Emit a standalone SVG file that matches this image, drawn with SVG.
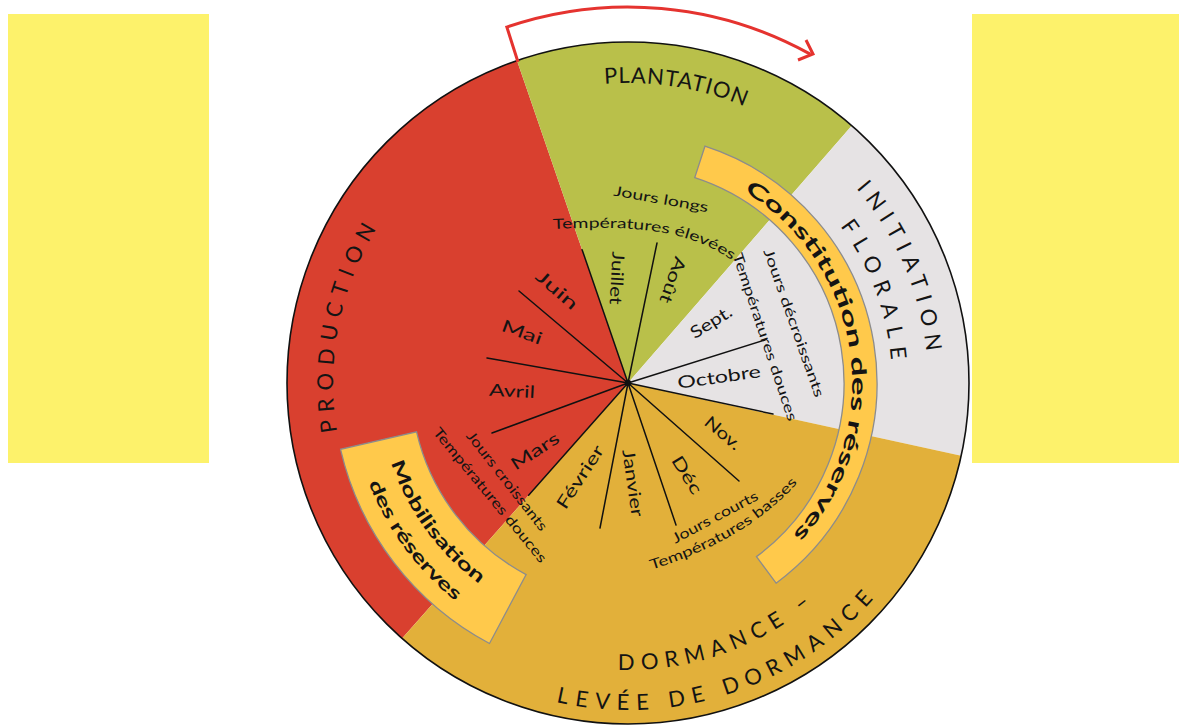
<svg xmlns="http://www.w3.org/2000/svg" width="1179" height="728" viewBox="0 0 1179 728">
<style>
.t{font-family:Lato,"Liberation Sans",sans-serif;fill:#141414}
.m{font-size:17px}
.c{font-size:14px}
.big{font-size:22px}
.b{font-size:20px;font-weight:bold}
.ln{stroke:#111;stroke-width:1.5;fill:none;stroke-linecap:round}
.band{fill:#FFC94B;stroke:#8c8c8c;stroke-width:1.3}
</style>
<defs>
<path id="pPlant" d="M 431.78 156.07 A 300 300 0 0 1 885.55 229.16"/>
<path id="pInit" d="M 714.46 95.73 A 300 300 0 0 1 895.89 518.03"/>
<path id="pFlor" d="M 715.04 133.76 A 264 264 0 0 1 858.34 512.00"/>
<path id="pProd" d="M 398.74 568.65 A 295 295 0 0 1 484.98 124.99"/>
<path id="pDorm" d="M 479.11 628.36 A 287 287 0 0 0 895.48 487.02"/>
<path id="pLev" d="M 454.72 660.31 A 327 327 0 0 0 931.19 505.50"/>
<path id="pCons" d="M 635.43 159.12 A 224 224 0 0 1 697.59 595.92"/>
<path id="pMob1" d="M 385.43 322.52 A 250 250 0 0 0 610.56 632.39"/>
<path id="pMob2" d="M 357.85 317.39 A 278 278 0 0 0 610.30 660.44"/>
<path id="pTempEl" d="M 553 229 C 640 225 690 230 736 263"/>
<path id="pTempBas" d="M 651.5 569.8 Q 748 539.5 798.8 481.3"/>
</defs>

<g id="side-panels">
<rect x="8" y="14" width="201" height="449" fill="#FDF26B"/>
<rect x="972" y="14" width="207" height="449" fill="#FDF26B"/>
</g>

<g id="sector-production">
<path d="M 628 383 L 402.05 638.40 A 341 341 0 0 1 516.98 60.58 Z" fill="#D9402F"/>
</g>
<g id="sector-plantation">
<path d="M 628 383 L 516.98 60.58 A 341 341 0 0 1 851.72 125.64 Z" fill="#B9C04A"/>
</g>
<g id="sector-initiation">
<path d="M 628 383 L 851.72 125.64 A 341 341 0 0 1 961.17 455.64 Z" fill="#E6E3E4"/>
</g>
<g id="sector-dormance">
<path d="M 628 383 L 961.17 455.64 A 341 341 0 0 1 402.05 638.40 Z" fill="#E2B03A"/>
</g>
<circle id="outline" cx="628" cy="383" r="341" fill="none" stroke="#111" stroke-width="1.6"/>

<g id="band-constitution">
<path class="band" d="M 704.95 146.19 A 249 249 0 0 1 776.11 583.16 L 756.48 556.63 A 216 216 0 0 0 694.75 177.57 Z"/>
<text class="t b"><textPath href="#pCons" startOffset="50%" text-anchor="middle" textLength="397" lengthAdjust="spacingAndGlyphs">Constitution des réserves</textPath></text>
</g>
<g id="band-mobilisation">
<path class="band" d="M 489.51 643.47 A 295 295 0 0 1 340.56 449.36 L 416.56 431.81 A 217 217 0 0 0 526.13 574.60 Z"/>
<text class="t b" style="font-size:18px"><textPath href="#pMob1" startOffset="50%" text-anchor="middle" textLength="152" lengthAdjust="spacingAndGlyphs">Mobilisation</textPath></text>
<text class="t b" style="font-size:18px"><textPath href="#pMob2" startOffset="50%" text-anchor="middle" textLength="148" lengthAdjust="spacingAndGlyphs">des réserves</textPath></text>
</g>

<g id="connectors">
<line class="ln" x1="628" y1="383" x2="582.1" y2="249.7"/>
<line class="ln" x1="628" y1="383" x2="519" y2="291"/>
<line class="ln" x1="628" y1="383" x2="487" y2="358"/>
<line class="ln" x1="628" y1="383" x2="492" y2="433"/>
<line class="ln" x1="628" y1="383" x2="528.6" y2="495.3"/>
<line class="ln" x1="628" y1="383" x2="600" y2="528"/>
<line class="ln" x1="628" y1="383" x2="676" y2="525"/>
<line class="ln" x1="628" y1="383" x2="739" y2="481"/>
<line class="ln" x1="628" y1="383" x2="773" y2="414"/>
<line class="ln" x1="628" y1="383" x2="765" y2="340"/>
<line class="ln" x1="628" y1="383" x2="657" y2="243"/>
<circle cx="628" cy="383" r="3.2" fill="#111"/>
<path d="M 518 62 L 506.83 27.06 A 376 376 0 0 1 810.29 54.14" fill="none" stroke="#E5332F" stroke-width="3"/>
<polyline points="806,40 813,54 798,60" fill="none" stroke="#E5332F" stroke-width="3" stroke-linejoin="miter"/>
</g>

<g id="labels-phases">
<text class="t big"><textPath href="#pPlant" startOffset="50%" text-anchor="middle" textLength="143" lengthAdjust="spacing">PLANTATION</textPath></text>
<text class="t big"><textPath href="#pInit" startOffset="50%" text-anchor="middle" textLength="180" lengthAdjust="spacing">INITIATION</textPath></text>
<text class="t big"><textPath href="#pFlor" startOffset="50%" text-anchor="middle" textLength="145" lengthAdjust="spacing">FLORALE</textPath></text>
<text class="t big"><textPath href="#pProd" startOffset="50%" text-anchor="middle" textLength="211" lengthAdjust="spacing">PRODUCTION</textPath></text>
<text class="t big"><textPath href="#pDorm" startOffset="50%" text-anchor="middle" textLength="208" lengthAdjust="spacing">DORMANCE –</textPath></text>
<text class="t big"><textPath href="#pLev" startOffset="50%" text-anchor="middle" textLength="350" lengthAdjust="spacing">LEVÉE DE DORMANCE</textPath></text>
</g>

<g id="labels-months">
<text class="t m" transform="translate(557 290) rotate(41)" text-anchor="middle" dy="0.35em" textLength="50" lengthAdjust="spacingAndGlyphs">Juin</text>
<text class="t m" transform="translate(522 332) rotate(20)" text-anchor="middle" dy="0.35em" textLength="42" lengthAdjust="spacingAndGlyphs">Mai</text>
<text class="t m" transform="translate(512 391) rotate(3)" text-anchor="middle" dy="0.35em" textLength="46" lengthAdjust="spacingAndGlyphs">Avril</text>
<text class="t m" transform="translate(535 451) rotate(-33)" text-anchor="middle" dy="0.35em" textLength="54" lengthAdjust="spacingAndGlyphs">Mars</text>
<text class="t m" transform="translate(617 278) rotate(93)" text-anchor="middle" dy="0.35em" textLength="53" lengthAdjust="spacingAndGlyphs">Juillet</text>
<text class="t m" transform="translate(673 280) rotate(110)" text-anchor="middle" dy="0.35em" textLength="48" lengthAdjust="spacingAndGlyphs">Août</text>
<text class="t m" transform="translate(711 322) rotate(-32)" text-anchor="middle" dy="0.35em" textLength="46" lengthAdjust="spacingAndGlyphs">Sept.</text>
<text class="t m" transform="translate(719 377) rotate(-8)" text-anchor="middle" dy="0.35em" textLength="84" lengthAdjust="spacingAndGlyphs">Octobre</text>
<text class="t m" transform="translate(723 433) rotate(40)" text-anchor="middle" dy="0.35em" textLength="42" lengthAdjust="spacingAndGlyphs">Nov.</text>
<text class="t m" transform="translate(687 475) rotate(58)" text-anchor="middle" dy="0.35em" textLength="42" lengthAdjust="spacingAndGlyphs">Déc</text>
<text class="t m" transform="translate(633 483) rotate(82)" text-anchor="middle" dy="0.35em" textLength="68" lengthAdjust="spacingAndGlyphs">Janvier</text>
<text class="t m" transform="translate(580 477) rotate(-57)" text-anchor="middle" dy="0.35em" textLength="72" lengthAdjust="spacingAndGlyphs">Février</text>
</g>

<g id="labels-conditions">
<text class="t c" transform="translate(661 199) rotate(10)" text-anchor="middle" dy="0.35em" textLength="96" lengthAdjust="spacingAndGlyphs">Jours longs</text>
<text class="t c"><textPath href="#pTempEl" textLength="185" lengthAdjust="spacingAndGlyphs">Températures élevées</textPath></text>
<text class="t c" transform="translate(794 323) rotate(70.5)" text-anchor="middle" dy="0.35em" textLength="156" lengthAdjust="spacingAndGlyphs">Jours décroissants</text>
<text class="t c" transform="translate(765 337) rotate(71.5)" text-anchor="middle" dy="0.35em" textLength="176" lengthAdjust="spacingAndGlyphs">Températures douces</text>
<text class="t c" transform="translate(507 481) rotate(52)" text-anchor="middle" dy="0.35em" textLength="122" lengthAdjust="spacingAndGlyphs">Jours croissants</text>
<text class="t c" transform="translate(490 495) rotate(50.5)" text-anchor="middle" dy="0.35em" textLength="170" lengthAdjust="spacingAndGlyphs">Températures douces</text>
<text class="t c" transform="translate(715 517) rotate(-28)" text-anchor="middle" dy="0.35em" textLength="95" lengthAdjust="spacingAndGlyphs">Jours courts</text>
<text class="t c"><textPath href="#pTempBas" textLength="172" lengthAdjust="spacingAndGlyphs">Températures basses</textPath></text>
</g>
</svg>
